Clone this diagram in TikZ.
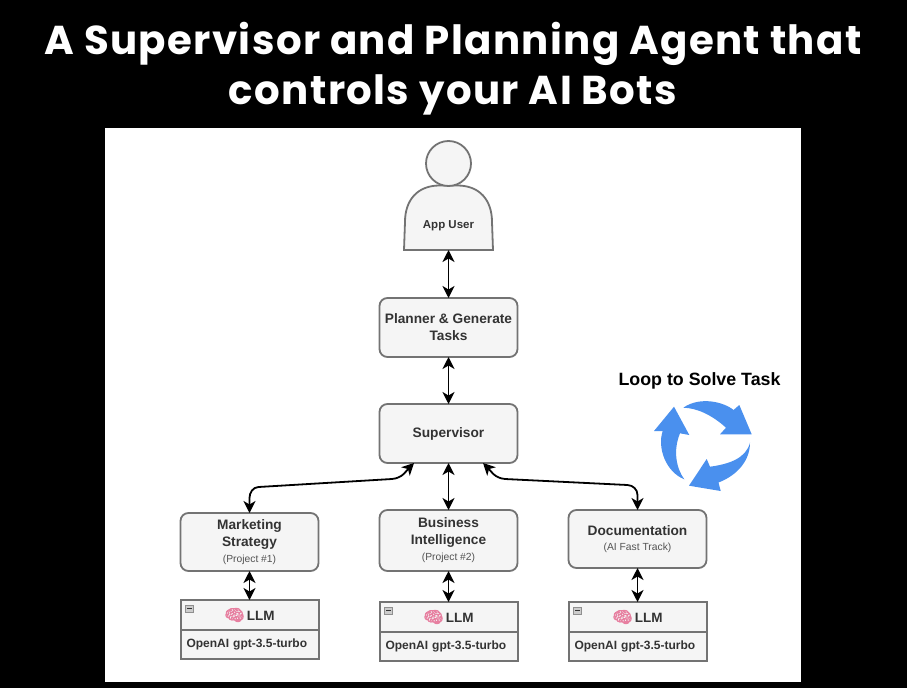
\documentclass[tikz,border=0pt]{standalone}
\usepackage{fontspec}
\setmainfont{Liberation Sans}
\newfontfamily\titlefont[LetterSpace=3.4]{Poppins}
\newfontfamily\emojifont[FakeBold=3]{Noto Emoji}
\usetikzlibrary{arrows.meta,calc,positioning}
\definecolor{boxline}{HTML}{737373}
\definecolor{boxfill}{HTML}{F5F5F5}
\definecolor{boxtext}{HTML}{333333}
\definecolor{loopblue}{HTML}{4A90EE}
\definecolor{brainpink}{HTML}{E77FA0}
\newcommand{\brainllm}{{\color{brainpink}\emojifont\fontsize{16}{16}\selectfont 🧠}\,LLM}
\newcommand{\subtext}[1]{{\fontsize{10.3}{12}\selectfont\mdseries\color{boxtext!85} #1}}

\begin{document}
\begin{tikzpicture}[
    x=1pt, y=1pt,
    node distance=47pt,
    every node/.style={align=center, inner sep=0pt, outer sep=0pt, text=boxtext},
    agent/.style={
      rectangle, rounded corners=8pt, draw=boxline, line width=1.8pt,
      fill=boxfill, minimum width=138pt, minimum height=59pt,
      font=\fontsize{13.7}{17}\selectfont\bfseries
    },
    llmhead/.style={
      rectangle, draw=boxline, line width=2pt, fill=boxfill,
      minimum width=138pt, minimum height=30pt,
      font=\fontsize{13.5}{16}\selectfont\bfseries
    },
    llmbody/.style={
      rectangle, draw=boxline, line width=2pt, fill=boxfill,
      text width=126pt, align=left, minimum width=138pt, minimum height=29pt,
      font=\fontsize{12}{14}\selectfont\bfseries
    },
    collapse/.style={
      rectangle, draw=boxline!80, line width=0.6pt, fill=black!20,
      minimum width=8pt, minimum height=7pt
    },
    link/.style={{Stealth[length=12pt,width=12pt,inset=3.5pt]}-{Stealth[length=12pt,width=12pt,inset=3.5pt]}, line width=1.8pt, draw=black}
  ]
    \useasboundingbox (0,0) rectangle (907,-688);
    \fill[black] (0,0) rectangle (907,-688);
    \fill[white] (105,-128) rectangle (801,-682);

    \node[text=white, font=\titlefont\fontsize{40.3}{50}\selectfont\bfseries] (title) at (453,-68.5)
      {A Supervisor and Planning Agent that\\controls your AI Bots};

    % user
    \node[minimum width=89pt, minimum height=64pt] (user) at (448.5,-218) {};
    \filldraw[draw=boxline, fill=boxfill, line width=1.8pt]
      (user.south west) -- ++(1,28) .. controls +(0,22) and +(-22,0) .. ($(user.north)+(-9,0.5)$)
      -- ($(user.north)+(9,0.5)$) .. controls +(22,0) and +(0,22) .. ($(user.south east)+(-1,28)$) -- (user.south east) -- cycle;
    \node[font=\fontsize{11.5}{14}\selectfont\bfseries] (userlabel) at ($(user.center)+(0,-8)$) {App User};
    \node[circle, draw=boxline, fill=boxfill, line width=1.8pt, minimum size=45pt, above=0pt of user] (head) {};

    % agents
    \node[agent, below=48pt of user] (planner) {Planner \& Generate\\Tasks};
    \node[agent, below=of planner] (supervisor) {Supervisor};
    \node[agent, below=of supervisor, minimum height=61pt] (business)
      {Business\\Intelligence\\[-1pt]\subtext{(Project \#2)}};
    \node[agent, left=61pt of business, yshift=-1.5pt, minimum height=58pt] (marketing)
      {Marketing\\Strategy\\[-1pt]\subtext{(Project \#1)}};
    \node[agent, right=51pt of business, yshift=1.5pt, minimum height=58pt] (docs)
      {Documentation\\[-2pt]\subtext{(AI Fast Track)}};

    % llm boxes
    \node[llmhead, below=29pt of marketing] (marketinghead) {\brainllm};
    \node[llmbody, below=0pt of marketinghead] (marketingllm) {OpenAI gpt-3.5-turbo};
    \node[llmhead, below=31pt of business] (businesshead) {\brainllm};
    \node[llmbody, below=0pt of businesshead] (businessllm) {OpenAI gpt-3.5-turbo};
    \node[llmhead, below=34pt of docs] (docshead) {\brainllm};
    \node[llmbody, below=0pt of docshead] (docsllm) {OpenAI gpt-3.5-turbo};

    \node[collapse, below right=5pt and 5pt of marketinghead.north west] (marketingmin) {\rule{5pt}{1pt}};
    \node[collapse, below right=5pt and 5pt of businesshead.north west] (businessmin) {\rule{5pt}{1pt}};
    \node[collapse, below right=5pt and 5pt of docshead.north west] (docsmin) {\rule{5pt}{1pt}};

    % connectors
    \coordinate (supleft) at ($(supervisor.south)!0.5!(supervisor.south west)$);
    \coordinate (supright) at ($(supervisor.south)!0.5!(supervisor.south east)$);
    \draw[link] (user) -- (planner);
    \draw[link] (planner) -- (supervisor);
    \draw[link] (supervisor) -- (business);
    \draw[link] (marketing) -- (marketinghead);
    \draw[link] (business) -- (businesshead);
    \draw[link] (docs) -- (docshead);
    \draw[link] (marketing.north) -- ++(0,15) to[out=90,in=183] ++(9,11)
      -- ($(supleft)+(-22,-16)$) to[out=5,in=-135] (supleft);
    \draw[link] (docs.north) -- ++(0,15) to[out=90,in=-3] ++(-10,10)
      -- ($(supright)+(22,-16)$) to[out=175,in=-45] (supright);

    % loop
    \node[font=\fontsize{17.8}{20}\selectfont\bfseries, text=black] (looplabel) at (699.5,-380.5) {Loop to Solve Task};
    \fill[loopblue] (683.3,-407.7) .. controls (700,-396) and (724,-402) .. (733.5,-410)
      -- (739.3,-405) -- (751.7,-434.3) -- (720,-434.3) -- (726,-427.7)
      .. controls (712,-415) and (697,-408) .. cycle;
    \fill[loopblue] (750,-442.7) .. controls (750,-460) and (738,-475) .. (718.5,-482.5)
      -- (720.7,-491) -- (689,-485.7) -- (706.7,-459) -- (710,-466.7)
      .. controls (730,-464) and (746,-458) .. cycle;
    \fill[loopblue] (684.3,-479.3) .. controls (666,-472) and (657,-448) .. (662.7,-431)
      -- (654,-431) -- (674,-406.7) -- (689.3,-435) -- (680,-433.3)
      .. controls (673,-450) and (676,-468) .. cycle;
  \end{tikzpicture}
\end{document}
